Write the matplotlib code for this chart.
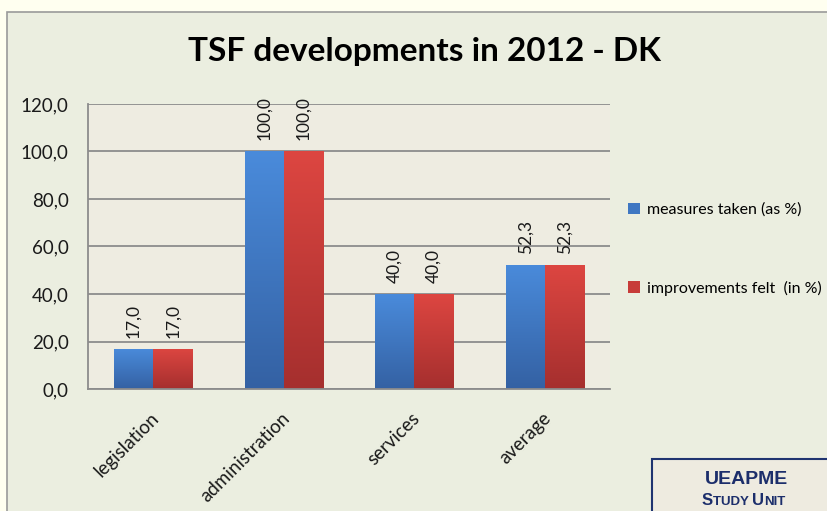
import matplotlib
matplotlib.use("Agg")
import matplotlib.pyplot as plt
import numpy as np
from matplotlib.patches import Rectangle
from matplotlib.transforms import ScaledTranslation
from matplotlib.colors import LinearSegmentedColormap

categories = ["legislation", "administration", "services", "average"]
measures_taken = [17.0, 100.0, 40.0, 52.3]
improvements_felt = [17.0, 100.0, 40.0, 52.3]
series_names = ["measures taken (as %)", "improvements felt  (in %)"]
y_ticks = [0, 20, 40, 60, 80, 100, 120]
title = "TSF developments in 2012 - DK"

W, H = 827, 511
fig = plt.figure(figsize=(W / 100, H / 100), dpi=100)
fig.patch.set_facecolor("#FFFFF0")
FONT = "Lato"

# chart area frame
fig.patches.append(Rectangle((7 / W, 1 - 12 / H), 1.0, -1.1, transform=fig.transFigure,
                             facecolor="#EBEEE0", edgecolor="#9A9A9A", lw=1.2, zorder=-5))

ax = fig.add_axes([88 / W, 1 - 389 / H, 522 / W, 285 / H])
ax.set_zorder(2)
ax.set_facecolor("#EEECE1")
ax.set_axisbelow(True)

x = np.arange(len(categories))
bw = 0.3
blue_cmap = LinearSegmentedColormap.from_list("b", ["#3461A3", "#4A8BDB"])
red_cmap = LinearSegmentedColormap.from_list("r", ["#A52F2E", "#DD4641"])
b1 = ax.bar(x - bw / 2, measures_taken, bw, color="#3F77C2", label=series_names[0], zorder=2)
b2 = ax.bar(x + bw / 2, improvements_felt, bw, color="#C73C39", label=series_names[1], zorder=2)

grad = np.linspace(0, 1, 256).reshape(-1, 1)
for bars, cmap in ((b1, blue_cmap), (b2, red_cmap)):
    for bar in bars:
        bx, by = bar.get_x(), bar.get_y()
        bwid, bh = bar.get_width(), bar.get_height()
        im = ax.imshow(grad, cmap=cmap, origin="lower", aspect="auto",
                       extent=(bx, bx + bwid, by, by + bh), zorder=2.5)
        im.set_clip_path(bar)
        lab = f"{bh:.1f}".replace(".", ",")
        ax.annotate(lab, (bx + bwid / 2, bh), xytext=(0, 8), textcoords="offset points",
                    rotation=90, ha="center", va="bottom", fontsize=12.5, family=FONT,
                    color="#1A1A1A")

ax.set_xlim(-0.5, len(categories) - 0.5)
ax.set_ylim(0, 120)
ax.set_yticks(y_ticks)
ax.set_yticklabels([f"{v:.1f}".replace(".", ",") for v in y_ticks], fontsize=13.5,
                   family=FONT, color="#1A1A1A")
ax.yaxis.grid(True, color="#8C8C8C", lw=1.3)
ax.tick_params(axis="y", length=0, pad=14)
ax.tick_params(axis="x", length=0, pad=19)
ax.set_xticks(x)
ax.set_xticklabels(categories, rotation=45, ha="right", va="center", rotation_mode="anchor",
                   fontsize=13.5, family=FONT, color="#1A1A1A")
for lbl in ax.get_xticklabels():
    lbl.set_transform(lbl.get_transform() + ScaledTranslation(0.03, 0, fig.dpi_scale_trans))
for s in ("top", "right"):
    ax.spines[s].set_visible(False)
for s in ("left", "bottom"):
    ax.spines[s].set_color("#8C8C8C")
    ax.spines[s].set_linewidth(1.3)

fig.text(424 / W, 1 - 52 / H, title, ha="center", va="center", fontsize=24,
         fontweight="bold", family=FONT, color="#000000")

leg = fig.legend(handles=[b1, b2], labels=series_names, loc="upper left",
                 bbox_to_anchor=(614 / W, 1 - 188 / H), frameon=False,
                 prop={"family": FONT, "size": 11.5}, handlelength=0.7, handleheight=0.7,
                 handletextpad=0.45, labelspacing=4.0)

# UEAPME box
NAVY = "#1C2E6B"
fig.patches.append(Rectangle((652 / W, 1 - 459 / H), 0.3, -0.2, transform=fig.transFigure,
                             facecolor="#EEEBE0", edgecolor="#1F3470", lw=1.5, zorder=1))
fig.text(746 / W, 1 - 480 / H, "UEAPME", ha="center", va="center", fontsize=14,
         fontweight="bold", family="Liberation Sans", color=NAVY)
# small caps "STUDY UNIT"
parts = [("S", 12), ("TUDY ", 9.5), ("U", 12), ("NIT", 9.5)]
renderer = fig.canvas.get_renderer()
xpos = 702.0
for txt, sz in parts:
    t = fig.text(xpos / W, 1 - 505 / H, txt, ha="left", va="baseline", fontsize=sz,
                 fontweight="bold", family="Liberation Sans", color=NAVY)
    xpos += t.get_window_extent(renderer).width

fig.savefig("out.png", dpi=100, facecolor=fig.get_facecolor())
